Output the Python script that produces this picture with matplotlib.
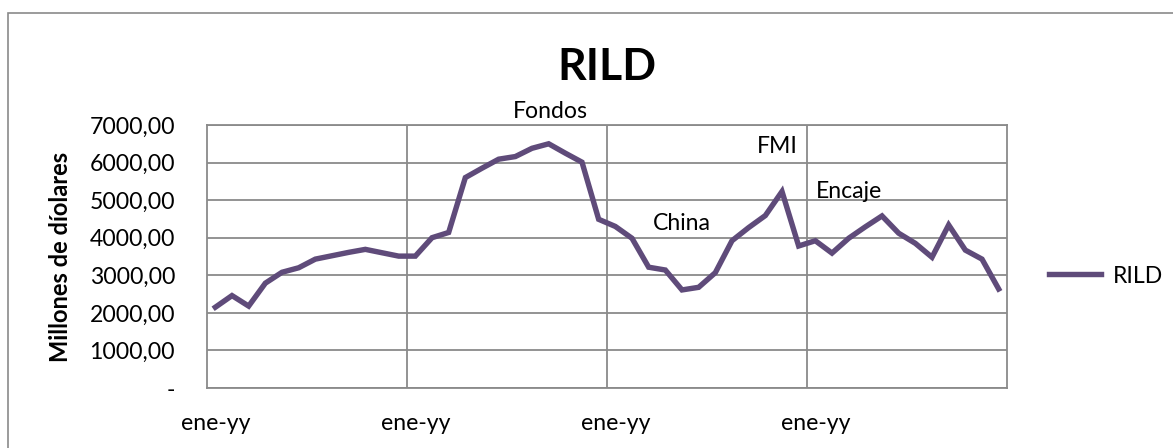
import matplotlib.pyplot as plt
from matplotlib.patches import Rectangle
from matplotlib.ticker import FuncFormatter

plt.rcParams["font.family"] = ["Lato", "DejaVu Sans"]

# monthly reserves (millones de dólares), 48 months
rild = [
    2150, 2460, 2180, 2790, 3080, 3200, 3430, 3520, 3610, 3690, 3600, 3510,
    3510, 4000, 4140, 5600, 5850, 6090, 6160, 6380, 6500, 6250, 6010, 4490,
    4300, 3985, 3215, 3140, 2610, 2680, 3070, 3920, 4270, 4590, 5230, 3780,
    3920, 3590, 3985, 4290, 4580, 4120, 3850, 3480, 4340, 3670, 3430, 2635,
]
tick_pos = [0, 12, 24, 36]
tick_labels = ["ene-yy", "ene-yy", "ene-yy", "ene-yy"]
y_ticks = [0, 1000, 2000, 3000, 4000, 5000, 6000, 7000]

# text notes on the chart: (label, month index, value)
notes = [
    ("Fondos", 20.1, 7190),
    ("FMI", 33.7, 6256),
    ("China", 28.0, 4206),
    ("Encaje", 38.05, 5058),
]

LINE = "#5f4b7a"
GRID = "#8a8a8a"
W, H = 1173, 448

fig = plt.figure(figsize=(W / 100, H / 100), dpi=100)
ax = fig.add_axes([207 / W, 1 - 388 / H, 800 / W, 263 / H])

x = list(range(len(rild)))
ax.plot(x, rild, color=LINE, lw=3.9, solid_joinstyle="miter", label="RILD",
        zorder=3)

ax.set_xlim(-0.5, len(rild) - 0.5)
ax.set_ylim(0, 7000)
ax.set_yticks(y_ticks)


def fmt(v, pos):
    if v == 0:
        return "-"
    return f"{v:.2f}".replace(".", ",")


ax.yaxis.set_major_formatter(FuncFormatter(fmt))
ax.set_xticks(tick_pos)
ax.set_xticklabels(tick_labels)
ax.set_xticks([11.5, 23.5, 35.5], minor=True)
ax.tick_params(axis="y", length=0, pad=23, labelsize=16.6)
ax.tick_params(axis="x", which="both", length=0, pad=18, labelsize=16.6)

ax.grid(axis="y", which="major", color=GRID, lw=1.3)
ax.grid(axis="x", which="minor", color=GRID, lw=1.3)
for sp in ax.spines.values():
    sp.set_color(GRID)
    sp.set_linewidth(1.3)

for label, xi, yv in notes:
    ax.text(xi, yv, label, ha="center", va="baseline", fontsize=16.6,
            clip_on=False)

fig.text(607 / W, 1 - 67 / H, "RILD", ha="center", va="center",
         fontsize=32, fontweight="bold")
fig.text(61 / W, 1 - 257 / H, "Millones de díolares", rotation=90,
         ha="center", va="center", fontsize=17, fontweight="bold")

ax.legend(loc="center left", bbox_to_anchor=(1049 / W, 1 - 276 / H),
          bbox_transform=fig.transFigure, frameon=False, fontsize=16.6,
          handlelength=2.26, handletextpad=0.52, borderpad=0,
          borderaxespad=0)

# chart area frame
fig.patches.append(Rectangle((8 / W, -0.1), 1.2, 1 - 13 / H + 0.1,
                             transform=fig.transFigure, fill=False,
                             edgecolor=GRID, lw=1.2))

fig.savefig("out.png", dpi=100)
